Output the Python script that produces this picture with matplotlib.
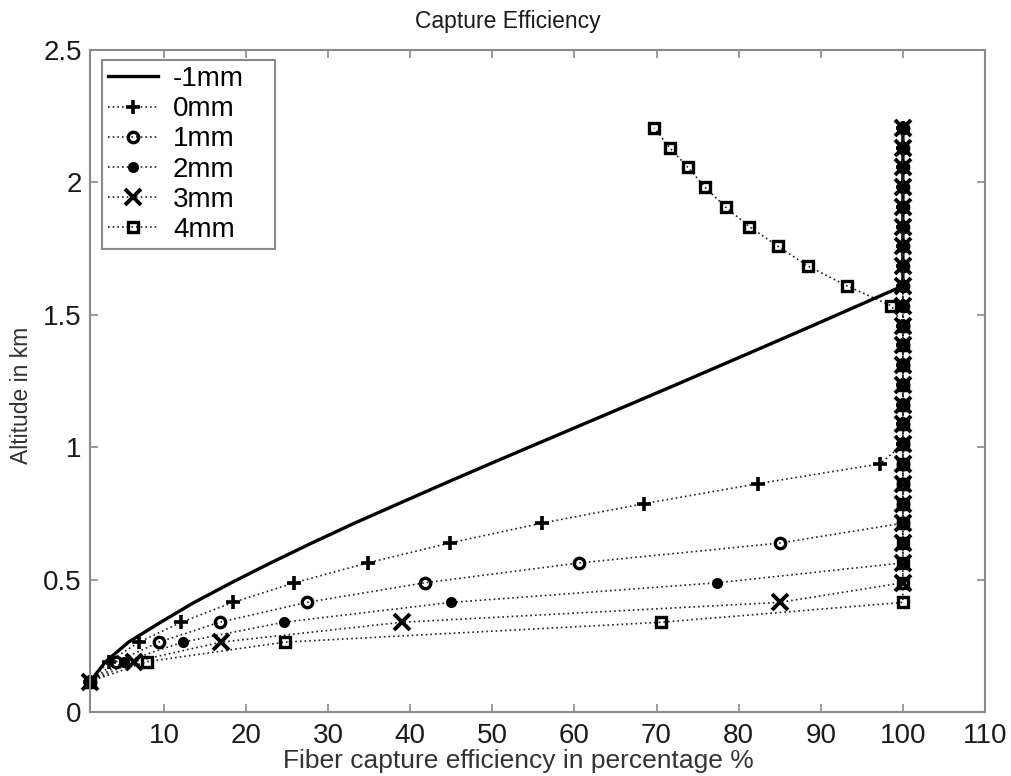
import matplotlib
matplotlib.use('Agg')
import matplotlib.pyplot as plt

plt.rcParams['font.family'] = ['Liberation Sans', 'DejaVu Sans']

# altitude (km) of each sample
alt = [0.115, 0.19, 0.264, 0.339, 0.414, 0.488, 0.563, 0.638, 0.713, 0.787,
       0.862, 0.937, 1.011, 1.086, 1.161, 1.235, 1.31, 1.385, 1.459, 1.534,
       1.609, 1.683, 1.758, 1.833, 1.907, 1.982, 2.057, 2.131, 2.206]

# capture efficiency (%) per droplet size
eff_m1 = [1, 2.9, 5.7, 9.6, 13.7, 18.2, 23.0, 28.0, 33.2, 38.6, 44.1, 49.7,
          55.3, 61.0, 66.7, 72.3, 77.9, 83.5, 89.0, 94.5] + [100]*9
eff_0 = [1, 3.3, 7.0, 12.1, 18.4, 25.9, 34.8, 44.8, 56.0, 68.5, 82.3, 97.2] + [100]*17
eff_1 = [1, 4.2, 9.4, 16.8, 27.4, 41.8, 60.6, 85.0] + [100]*21
eff_2 = [1, 5.2, 12.3, 24.6, 45.0, 77.4] + [100]*23
eff_3 = [1, 6.3, 17.0, 39.0, 85.0] + [100]*24
eff_4 = [1, 7.9, 24.8, 70.6] + [100]*15 + [98.6, 93.2, 88.5, 84.8, 81.3,
                                           78.4, 75.9, 73.8, 71.6, 69.7]

labels = ['-1mm', '0mm', '1mm', '2mm', '3mm', '4mm']

fig = plt.figure(figsize=(10.11, 7.76), dpi=100)
ax = fig.add_axes([90/1011, 1-712/776, 895/1011, 662/776])

dot = (0, (1, 1.8))
ax.plot(eff_m1, alt, color='k', linestyle='-', linewidth=2.4, label=labels[0],
        clip_on=False)
ax.plot(eff_0, alt, color='#222222', linestyle=dot, linewidth=1.2, marker='+',
        markersize=10, markeredgewidth=2.6, markeredgecolor='k', label=labels[1],
        clip_on=False)
ax.plot(eff_1, alt, color='#222222', linestyle=dot, linewidth=1.2, marker='o',
        markersize=7.5, markeredgewidth=2.4, markeredgecolor='k',
        markerfacecolor='none', label=labels[2], clip_on=False)
ax.plot(eff_2, alt, color='#222222', linestyle=dot, linewidth=1.2, marker='o',
        markersize=7, markeredgewidth=1.0, markeredgecolor='k',
        markerfacecolor='k', label=labels[3], clip_on=False)
ax.plot(eff_3, alt, color='#222222', linestyle=dot, linewidth=1.2, marker='x',
        markersize=11, markeredgewidth=2.8, markeredgecolor='k', label=labels[4],
        clip_on=False)
ax.plot(eff_4, alt, color='#222222', linestyle=dot, linewidth=1.2, marker='s',
        markersize=7, markeredgewidth=2.4, markeredgecolor='k',
        markerfacecolor='none', label=labels[5], clip_on=False)

ax.set_xlim(1, 110)
ax.set_ylim(0, 2.5)
ax.set_xticks(range(10, 111, 10))
ax.set_yticks([0, 0.5, 1, 1.5, 2, 2.5])
ax.set_yticklabels(['0', '0.5', '1', '1.5', '2', '2.5'])

for s in ax.spines.values():
    s.set_color('#8a8a8a')
    s.set_linewidth(1.5)
ax.tick_params(direction='in', length=6, width=1.2, color='#8a8a8a',
               top=True, right=True, labelsize=20, labelcolor='#1a1a1a')
ax.tick_params(axis='x', pad=8)
ax.tick_params(axis='y', pad=6)

ax.set_title('Capture Efficiency', fontsize=16.5, color='#1a1a1a', x=0.467, y=1.0, pad=16)
ax.set_xlabel('Fiber capture efficiency in percentage %', fontsize=19, color='#333333')
ax.xaxis.set_label_coords(0.479, -0.056)
ax.set_ylabel('Altitude in km', fontsize=16.5, color='#333333')
ax.yaxis.set_label_coords(-0.064, 0.479)

leg_top = 1 - 10/662
leg = ax.legend(loc='upper left', bbox_to_anchor=(12/895, leg_top - 0.3, 173/895, 0.3),
                mode='expand', borderaxespad=0,
                prop={'size': 20}, handlelength=1.8, handletextpad=0.54,
                labelspacing=0.15, fancybox=False, framealpha=1, borderpad=0.22)
leg.get_frame().set_edgecolor('#8a8a8a')
leg.get_frame().set_linewidth(1.5)

fig.savefig('out.png', dpi=100)
